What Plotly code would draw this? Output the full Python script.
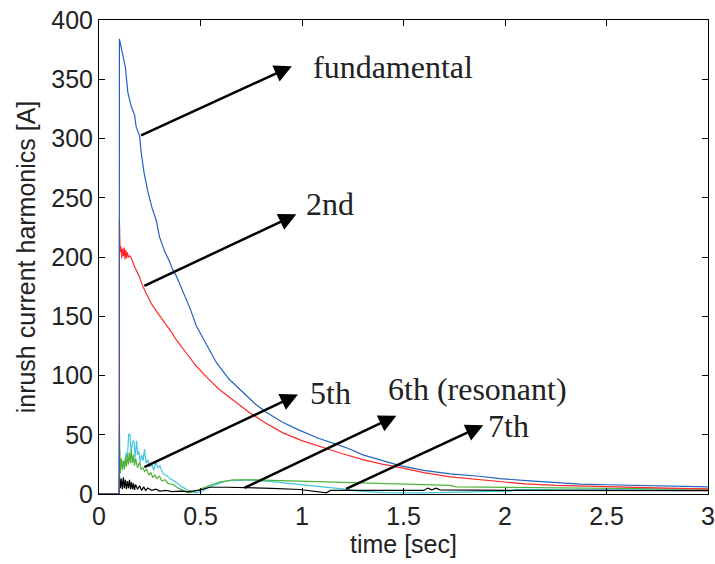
import plotly.graph_objects as go

# ---------------- data ----------------
fund_t = [0, 0.1, 0.1005, 0.117, 0.13, 0.142, 0.159, 0.175, 0.183, 0.2, 0.208, 0.222, 0.241,
          0.262, 0.282, 0.298, 0.323, 0.348, 0.359, 0.381, 0.42, 0.45, 0.479, 0.53,
          0.578, 0.64, 0.709, 0.77, 0.824, 0.9, 0.972, 1.08, 1.186, 1.235, 1.3, 1.4,
          1.482, 1.6, 1.73, 1.876, 1.975, 2.123, 2.25, 2.37, 2.5, 2.65, 2.764, 2.9, 3.0]
fund_v = [0, 0, 384, 372, 360, 339, 327, 320, 310, 302, 288, 271, 255,
          241, 231, 217, 205, 196, 191, 184, 168, 156, 142, 126,
          111, 97, 86, 76, 69, 61, 55, 47, 41, 38, 33, 28,
          24, 20, 17, 15, 13, 11, 9.5, 8.4, 7.8, 7.3, 7, 6.5, 6]

sec_t = [0, 0.1, 0.1005, 0.104, 0.108, 0.112, 0.116, 0.12, 0.124, 0.128, 0.132, 0.136, 0.14,
         0.145, 0.152, 0.159, 0.175, 0.2, 0.216, 0.24, 0.26, 0.28, 0.298, 0.33, 0.36,
         0.381, 0.43, 0.479, 0.54, 0.594, 0.67, 0.742, 0.82, 0.906, 1.0, 1.104, 1.2,
         1.3, 1.4, 1.48, 1.6, 1.73, 1.876, 1.98, 2.1, 2.25, 2.37, 2.5, 2.7, 2.85, 3.0]
sec_v = [0, 0, 231, 204, 209, 199, 207, 201, 208, 198, 206, 199, 204,
         200, 201, 199, 192, 183, 175, 166, 160, 155, 151, 143, 136,
         130, 119, 108, 97, 88, 78, 68.6, 60, 51.6, 45, 39, 34,
         29, 25, 22.5, 18, 14.5, 12, 10, 8.5, 7.3, 6.7, 6, 5.2, 4.8, 4.4]

fifth_t = [0, 0.1, 0.1005, 0.104, 0.11, 0.115, 0.12, 0.125, 0.13, 0.135, 0.14, 0.145, 0.15,
           0.155, 0.159, 0.165, 0.17, 0.175, 0.18, 0.19, 0.2, 0.208, 0.216, 0.225,
           0.235, 0.245, 0.255, 0.265, 0.275, 0.285, 0.298, 0.31, 0.325, 0.34, 0.364,
           0.39, 0.41, 0.438, 0.46, 0.496, 0.54, 0.594, 0.66, 0.742, 0.85, 1.0, 1.1,
           1.235, 1.4, 1.55, 1.73, 1.76, 2.0, 2.35, 2.7, 3.0]
fifth_v = [0, 0, 57, 17, 30, 20, 28, 21, 31, 23, 33, 25, 35,
           26, 37.5, 26, 33, 24, 30, 22, 27, 21, 22, 19,
           21, 16, 18, 14, 16, 13, 15, 11, 12, 9, 8,
           5, 3.5, 1, 1.5, 4, 7, 10, 12, 12, 11.5, 10.5, 10,
           9.4, 8.8, 8.2, 7.2, 6, 5.5, 5.2, 4.5, 4]

sixth_t = [0, 0.1, 0.1005, 0.104, 0.11, 0.116, 0.122, 0.128, 0.134, 0.14, 0.146, 0.152, 0.158,
           0.165, 0.172, 0.178, 0.185, 0.19, 0.196, 0.203, 0.21, 0.217, 0.224, 0.232,
           0.24, 0.25, 0.26, 0.27, 0.28, 0.29, 0.3, 0.315, 0.33, 0.35, 0.38, 0.41,
           0.44, 0.479, 0.51, 0.545, 0.627, 0.742, 0.85, 0.94, 1.07, 1.2, 1.28, 1.4,
           1.6, 1.8, 2.03, 2.05, 2.5, 3.0]
sixth_v = [0, 0, 40, 22, 30, 24, 28, 25, 35, 30, 50, 51, 35,
           44, 45, 31, 45, 33, 36, 27, 33, 28, 38, 26,
           29, 23, 25, 20, 27, 22, 24, 17, 16, 13, 10, 6,
           3, 1, 2.5, 6, 11, 12, 10.5, 9, 6.5, 4.4, 2.4, 1.2,
           1, 1.8, 2.4, 3.8, 3.8, 3.6]

seventh_t = [0, 0.1, 0.1005, 0.105, 0.11, 0.115, 0.12, 0.125, 0.13, 0.135, 0.14, 0.145, 0.15,
             0.155, 0.16, 0.165, 0.17, 0.175, 0.18, 0.19, 0.2, 0.21, 0.22, 0.23, 0.24,
             0.26, 0.28, 0.3, 0.33, 0.36, 0.4, 0.44, 0.496, 0.545, 0.63, 0.74, 0.85,
             0.99, 1.12, 1.14, 1.6, 1.62, 1.64, 1.66, 1.68, 2.0, 3.0]
seventh_v = [0, 0, 16, 5, 13, 4, 14, 5, 12, 4, 11, 5, 12,
             4, 10, 4, 9, 3.5, 8, 4, 7, 3, 6, 3, 5,
             3, 4, 2.5, 3, 2, 2.5, 2, 3.3, 5.7, 5.7, 5.5, 4.8,
             3.8, 1, 3, 3, 5, 3.5, 5, 3.5, 3, 2.8]

# annotations: label, text x, text y, arrow tip x, tip y, tail x, tail y
labels = ["fundamental", "2nd", "5th", "6th (resonant)", "7th"]
label_x = [1.045, 1.008, 1.028, 1.414, 1.905]
label_y = [360.5, 245, 85, 89, 57]
tip_x = [0.95, 0.972, 0.98, 1.465, 1.893]
tip_y = [361, 236, 84, 66, 58]
tail_x = [0.2, 0.216, 0.216, 0.709, 1.21]
tail_y = [302, 175, 22, 4.5, 3.8]

x_ticks = [0, 0.5, 1, 1.5, 2, 2.5, 3]
y_ticks = [0, 50, 100, 150, 200, 250, 300, 350, 400]

# ---------------- figure ----------------
fig = go.Figure()
series = [
    (sixth_t, sixth_v, "#45c6e0"),
    (fifth_t, fifth_v, "#4fb33a"),
    (seventh_t, seventh_v, "#000000"),
    (sec_t, sec_v, "#ff2a2a"),
    (fund_t, fund_v, "#2462c0"),
]
for t, v, c in series:
    fig.add_trace(go.Scatter(x=t, y=v, mode="lines",
                             line=dict(color=c, width=1.2),
                             showlegend=False, hoverinfo="skip"))

annotations = []
for i in range(len(labels)):
    annotations.append(dict(
        x=tip_x[i], y=tip_y[i], xref="x", yref="y",
        ax=tail_x[i], ay=tail_y[i], axref="x", ayref="y",
        text="", showarrow=True, arrowhead=2, arrowsize=1.4,
        arrowwidth=2.5, arrowcolor="black"))
    annotations.append(dict(
        x=label_x[i], y=label_y[i], xref="x", yref="y",
        text=labels[i], showarrow=False, xanchor="left", yanchor="middle",
        font=dict(family="Liberation Serif, Times New Roman, serif",
                  size=32, color="#222222")))

axis_font = dict(family="Liberation Sans, Arial, sans-serif", size=25, color="#222222")
common = dict(ticks="inside", ticklen=6, tickcolor="black", showline=True,
              linecolor="black", linewidth=1, mirror="ticks", showgrid=False,
              zeroline=False, tickfont=axis_font, automargin=False,
              ticklabeloverflow="allow")
fig.update_layout(
    width=715, height=564,
    margin=dict(l=99, r=7, t=20, b=70),
    paper_bgcolor="white", plot_bgcolor="white",
    annotations=annotations,
    xaxis=dict(range=[0, 3], tickvals=x_ticks,
               title=dict(text="time [sec]", font=axis_font, standoff=2), **common),
    yaxis=dict(range=[0, 400], tickvals=y_ticks,
               title=dict(text="inrush current harmonics [A]", font=axis_font,
                          standoff=8), **common),
)

# remove the default 8px page margin so the figure fills the window exactly
fig.write_html("out.html", config={"displayModeBar": False},
               post_script="document.body.style.margin='0px';")
